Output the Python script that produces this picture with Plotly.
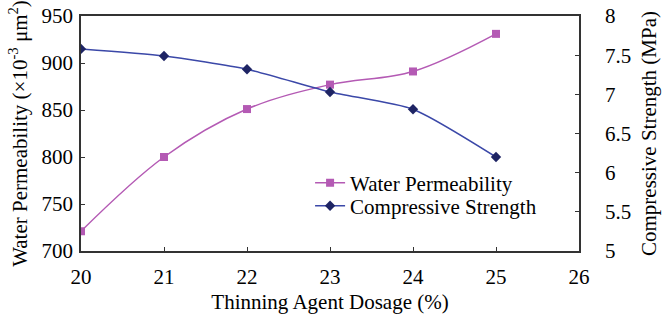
import plotly.graph_objects as go

dosage = [20, 21, 22, 23, 24, 25]
water_perm = [721, 800, 851, 877, 891, 931]
comp_strength = [7.58, 7.49, 7.32, 7.03, 6.81, 6.2]
x_ticks = [20, 21, 22, 23, 24, 25, 26]
y1_ticks = [700, 750, 800, 850, 900, 950]
y2_ticks = [5, 5.5, 6, 6.5, 7, 7.5, 8]

font_family = "Liberation Serif"

fig = go.Figure()
fig.add_trace(go.Scatter(
    x=dosage, y=water_perm, name="Water Permeability",
    mode="lines+markers", line=dict(color="#B45AB4", width=1.5, shape="spline"),
    marker=dict(symbol="square", size=8, color="#B45AB4"),
    yaxis="y", legend="legend"))
fig.add_trace(go.Scatter(
    x=dosage, y=comp_strength, name="Compressive Strength",
    mode="lines+markers", line=dict(color="#3B48A8", width=1.5, shape="spline", smoothing=0.6),
    marker=dict(symbol="diamond", size=8, color="#1E2464"),
    yaxis="y2", legend="legend2"))

axis_common = dict(showgrid=False, zeroline=False, ticks="inside", ticklen=4,
                   linecolor="#333333", linewidth=1.5, tickcolor="#333333",
                   automargin=False,
                   tickfont=dict(family=font_family, size=21, color="black"))

legend_common = dict(xanchor="left", yanchor="middle", bgcolor="rgba(0,0,0,0)",
                     font=dict(family=font_family, size=21, color="black"),
                     itemwidth=30)

fig.update_layout(
    width=670, height=318,
    margin=dict(l=81, r=91, t=16, b=67),
    paper_bgcolor="white", plot_bgcolor="white",
    font=dict(family=font_family, color="black", size=21),
    showlegend=True,
    legend=dict(x=0.46, y=0.289, **legend_common),
    legend2=dict(x=0.46, y=0.191, **legend_common),
    xaxis=dict(range=[20, 26], tickvals=x_ticks, mirror=True, showline=True,
               ticklabelstandoff=6,
               title=dict(text="Thinning Agent Dosage (%)", font=dict(family=font_family, size=21), standoff=6),
               **axis_common),
    yaxis=dict(range=[700, 950], tickvals=y1_ticks, showline=True,
               ticklabelstandoff=2,
               title=dict(text="Water Permeability (×10<sup>-3</sup> μm<sup>2</sup>)", font=dict(family=font_family, size=21), standoff=8),
               **axis_common),
    yaxis2=dict(range=[5, 8], tickvals=y2_ticks, overlaying="y", side="right", showline=True,
                ticklabelstandoff=20,
                title=dict(text="Compressive Strength (MPa)", font=dict(family=font_family, size=21), standoff=11),
                **axis_common),
)

fig.write_html("out.html", config={"displayModeBar": False},
               post_script="document.body.style.margin='0';")
